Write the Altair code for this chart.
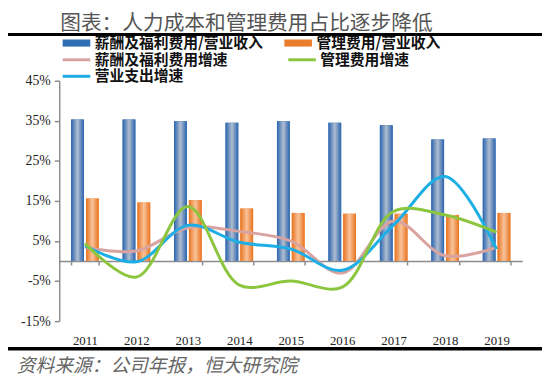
import altair as alt
import pandas as pd

# ---------------- data ----------------
years = ["2011", "2012", "2013", "2014", "2015", "2016", "2017", "2018", "2019"]
ratio_salary = [35.3, 35.3, 34.9, 34.5, 34.9, 34.5, 33.9, 30.3, 30.6]
ratio_admin = [15.6, 14.6, 15.2, 13.1, 12.0, 11.8, 11.8, 11.5, 12.0]
growth_salary = [3.4, 2.5, 8.3, 7.4, 5.0, -3.0, 10.0, 1.3, 3.4]
growth_admin = [4.4, -4.0, 13.6, -6.0, -5.0, -6.5, 12.4, 11.5, 7.2]
growth_opex = [3.8, -0.2, 8.9, 4.7, 3.0, -2.3, 9.0, 21.1, 3.0]

bar_names = ["薪酬及福利费用/营业收入", "管理费用/营业收入"]
# legend fills column by column: this order gives rows (薪酬, 管理) / (营业支出)
line_names = ["薪酬及福利费用增速", "营业支出增速", "管理费用增速"]
bar_colors = ["#2F6DB5", "#EB7D2B"]
line_colors = ["#D9A3A0", "#1CAEE4", "#8CC63F"]
line_values = [growth_salary, growth_opex, growth_admin]
y_ticks = [-15, -5, 5, 15, 25, 35, 45]

title_text = ["图表：人力成本和管理费用占比逐步降低"]
source_text = ["资料来源：公司年报，恒大研究院"]

bars_df = pd.DataFrame({
    "year": years * 2,
    "series": [bar_names[0]] * len(years) + [bar_names[1]] * len(years),
    "value": ratio_salary + ratio_admin,
})
lines_df = pd.DataFrame({
    "year": years * 3,
    "series": sum([[n] * len(years) for n in line_names], []),
    "value": sum(line_values, []),
})

LABEL_FONT = "Noto Sans CJK SC"
NUM_FONT = "Liberation Serif"
AXIS_GRAY = "#8c8c8c"

grad_blue = {"gradient": "linear", "x1": 0, "y1": 0, "x2": 1, "y2": 0,
             "stops": [{"offset": 0, "color": "#2A64AE"},
                       {"offset": 0.5, "color": "#AFBDD0"},
                       {"offset": 1, "color": "#2A64AE"}]}
grad_orange = {"gradient": "linear", "x1": 0, "y1": 0, "x2": 1, "y2": 0,
               "stops": [{"offset": 0, "color": "#E8731F"},
                         {"offset": 0.5, "color": "#F9C39A"},
                         {"offset": 1, "color": "#E8731F"}]}

x_enc = alt.X(
    "year:N",
    title=None,
    scale=alt.Scale(paddingInner=0.464, paddingOuter=0.232),
    axis=alt.Axis(
        offset=-61, tickBand="extent", tickSize=4, tickWidth=1.5,
        tickColor=AXIS_GRAY, domainColor=AXIS_GRAY, domainWidth=1.5,
        labelAngle=0, labelPadding=71, labelFont=NUM_FONT, labelFontSize=13,
        labelColor="#222222", grid=False,
    ),
)
y_enc = alt.Y(
    "value:Q",
    title=None,
    scale=alt.Scale(domain=[-15, 45], nice=False, zero=False),
    axis=alt.Axis(
        values=y_ticks, labelExpr="datum.value + '%'", tickSize=5, tickWidth=1.5,
        tickColor=AXIS_GRAY, domainColor=AXIS_GRAY, domainWidth=1.5,
        labelFont=NUM_FONT, labelFontSize=14, labelColor="#222222",
        labelPadding=4, grid=False,
    ),
)

bar_base = alt.Chart(bars_df).encode(
    x=x_enc,
    xOffset=alt.XOffset("series:N", sort=bar_names,
                        scale=alt.Scale(paddingInner=0.14, paddingOuter=0)),
    y=y_enc,
)

bars_legend = bar_base.mark_bar().encode(
    fill=alt.Fill(
        "series:N", sort=bar_names,
        scale=alt.Scale(domain=bar_names, range=bar_colors),
        legend=alt.Legend(
            title=None, orient="none", legendX=10, legendY=-46, columns=2,
            symbolType="M-3.5,-0.9H3.5V0.9H-3.5Z", symbolSize=64,
            symbolStrokeWidth=0, labelOffset=11, columnPadding=21, rowPadding=1,
            labelFont=LABEL_FONT, labelFontSize=15, labelFontWeight="bold",
            labelColor="#111111", labelLimit=400, padding=0,
        ),
    )
)

bars_grad = bar_base.mark_bar().encode(
    fill=alt.condition(alt.datum.series == bar_names[0],
                       alt.value(grad_blue), alt.value(grad_orange))
)

lines = alt.Chart(lines_df).mark_line(
    interpolate="catmull-rom", strokeWidth=3
).encode(
    x=x_enc,
    y=y_enc,
    stroke=alt.Stroke(
        "series:N", sort=line_names,
        scale=alt.Scale(domain=line_names, range=line_colors),
        legend=alt.Legend(
            title=None, orient="none", legendX=10, legendY=-29, columns=2,
            symbolType="M-3.5,0H3.5", symbolSize=64, symbolStrokeWidth=3,
            labelOffset=11, columnPadding=54, rowPadding=1,
            labelFont=LABEL_FONT, labelFontSize=15, labelFontWeight="bold",
            labelColor="#111111", labelLimit=400, padding=0,
        ),
    ),
)

one = pd.DataFrame({"k": [0]})
rule_top = alt.Chart(one).mark_rule(color="black", strokeWidth=3).encode(
    x=alt.value(-52), x2=alt.value(490), y=alt.value(-47))
rule_bottom = alt.Chart(one).mark_rule(color="black", strokeWidth=3.5).encode(
    x=alt.value(-52), x2=alt.value(490), y=alt.value(272))

title_mark = alt.Chart(pd.DataFrame({"t": title_text})).mark_text(
    align="left", baseline="alphabetic", font=LABEL_FONT, fontSize=21,
    color="#555555"
).encode(x=alt.value(1), y=alt.value(-51), text="t:N")

source_mark = alt.Chart(pd.DataFrame({"t": source_text})).mark_text(
    align="left", baseline="alphabetic", font=LABEL_FONT, fontSize=19,
    fontStyle="italic", color="#666666"
).encode(x=alt.value(-43), y=alt.value(296), text="t:N")

chart = alt.layer(
    bars_legend, bars_grad, lines, rule_top, rule_bottom, title_mark, source_mark
).properties(
    width=470, height=244,
    autosize=alt.AutoSizeParams(type="none"),
    padding={"left": 52, "top": 71, "right": 20, "bottom": 61},
    background="white",
).configure_view(stroke=None)

chart.save("out.html", embed_options={"renderer": "svg", "actions": False})
